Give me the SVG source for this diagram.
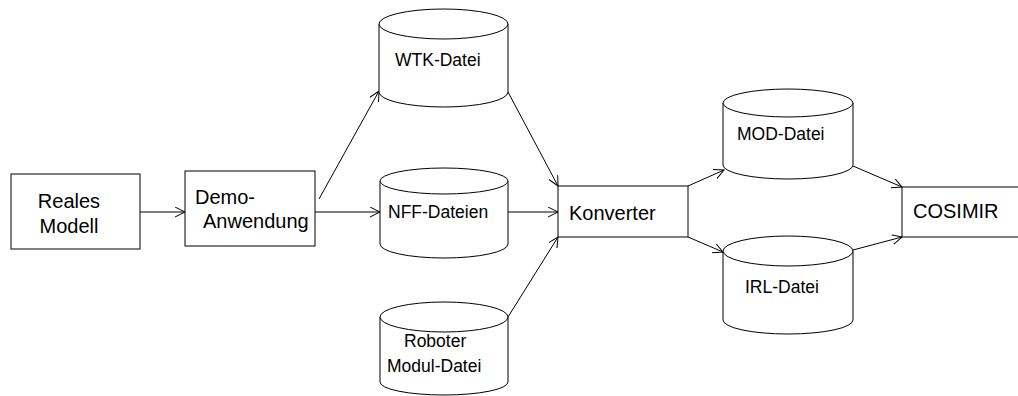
<svg xmlns="http://www.w3.org/2000/svg" width="1018" height="396" viewBox="0 0 1018 396">
<style>
.box{fill:#fff;stroke:#000;stroke-width:1}
.cyl{fill:#fff;stroke:#000;stroke-width:1}
.ln{fill:none;stroke:#000;stroke-width:1;marker-end:url(#arr)}
.tb{font-family:"Liberation Sans",Arial,sans-serif;font-size:20px;fill:#000}
.tc{font-family:"Liberation Sans",Arial,sans-serif;font-size:17.5px;fill:#000}
</style>
<defs>
<marker id="arr" markerUnits="userSpaceOnUse" markerWidth="12" markerHeight="12" refX="10" refY="5" orient="auto">
<path d="M0,0 L10,5 L0,10" fill="none" stroke="#000" stroke-width="1"/>
</marker>
</defs>
<rect width="1018" height="396" fill="#fff"/>
<g id="connectors">
<line class="ln" x1="140" y1="212" x2="185" y2="212"/>
<line class="ln" x1="319" y1="199" x2="379" y2="91"/>
<line class="ln" x1="315" y1="212" x2="380" y2="212"/>
<line class="ln" x1="508" y1="92" x2="558" y2="186"/>
<line class="ln" x1="508" y1="212" x2="558" y2="212"/>
<line class="ln" x1="508" y1="317" x2="558" y2="237"/>
<line class="ln" x1="688" y1="186" x2="724" y2="170"/>
<line class="ln" x1="688" y1="237" x2="723" y2="252"/>
<line class="ln" x1="853" y1="166" x2="902" y2="187"/>
<line class="ln" x1="853" y1="250" x2="902" y2="237"/>
</g>
<g id="reales">
<rect class="box" x="11" y="174" width="129" height="75"/>
<text class="tb" x="69" y="208" text-anchor="middle">Reales</text>
<text class="tb" x="69" y="233" text-anchor="middle">Modell</text>
</g>
<g id="demo">
<rect class="box" x="185" y="171" width="130" height="75"/>
<text class="tb" x="195" y="204">Demo-</text>
<text class="tb" x="203" y="228">Anwendung</text>
</g>
<g id="wtk">
<path class="cyl" d="M379,24 L379,92 A64.5,15 0 0 0 508,92 L508,24 A64.5,15 0 0 0 379,24 Z"/>
<path class="cyl" d="M379,24 A64.5,15 0 0 0 508,24" fill="none"/>
<text class="tc" x="395" y="66">WTK-Datei</text>
</g>
<g id="nff">
<path class="cyl" d="M380,181 L380,244 A64,14 0 0 0 508,244 L508,181 A64,13 0 0 0 380,181 Z"/>
<path class="cyl" d="M380,181 A64,13 0 0 0 508,181" fill="none"/>
<text class="tc" x="388" y="218">NFF-Dateien</text>
</g>
<g id="roboter">
<path class="cyl" d="M380,317 L380,382 A64,13 0 0 0 508,382 L508,317 A64,15 0 0 0 380,317 Z"/>
<path class="cyl" d="M380,317 A64,15 0 0 0 508,317" fill="none"/>
<text class="tc" x="404" y="347">Roboter</text>
<text class="tc" x="387" y="372">Modul-Datei</text>
</g>
<g id="konverter">
<rect class="box" x="558" y="186" width="130" height="51"/>
<text class="tb" x="569" y="220">Konverter</text>
</g>
<g id="mod">
<path class="cyl" d="M723,103 L723,165 A65,14 0 0 0 853,165 L853,103 A65,14 0 0 0 723,103 Z"/>
<path class="cyl" d="M723,103 A65,14 0 0 0 853,103" fill="none"/>
<text class="tc" x="737" y="140">MOD-Datei</text>
</g>
<g id="irl">
<path class="cyl" d="M723,251 L723,320 A65,14 0 0 0 853,320 L853,251 A65,15 0 0 0 723,251 Z"/>
<path class="cyl" d="M723,251 A65,15 0 0 0 853,251" fill="none"/>
<text class="tc" x="745" y="293">IRL-Datei</text>
</g>
<g id="cosimir">
<rect class="box" x="902" y="187" width="130" height="50"/>
<text class="tb" x="913" y="218">COSIMIR</text>
</g>
</svg>
